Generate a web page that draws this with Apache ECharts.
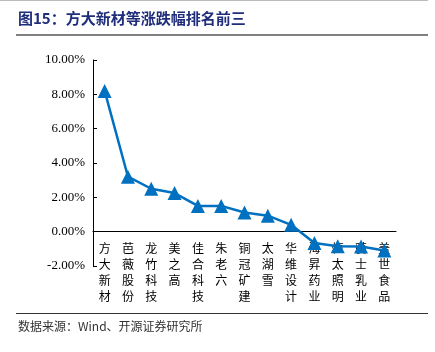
<!DOCTYPE html>
<html>
<head>
<meta charset="utf-8">
<script src="https://cdn.jsdelivr.net/npm/echarts@6/dist/echarts.min.js"></script>
<style>
  html, body { margin: 0; padding: 0; background: #fff; }
  #main { width: 435px; height: 352px; }
</style>
</head>
<body>
<div id="main"></div>
<script>
var names = ['方大新材', '芭薇股份', '龙竹科技', '美之高', '佳合科技', '朱老六', '铜冠矿建',
  '太湖雪', '华维设计', '海昇药业', '恒太照明', '骑士乳业', '盖世食品'];
// 涨跌幅 (%)
var changes = [8.2, 3.2, 2.5, 2.25, 1.5, 1.5, 1.12, 0.93, 0.4, -0.66, -0.85, -0.87, -1.1];
var yTicks = { min: -2, max: 10, step: 2 };

var chart = echarts.init(document.getElementById('main'));
chart.setOption({
  backgroundColor: '#fff',
  animation: false,
  grid: { left: 93, right: 39, top: 60, bottom: 86 },
  graphic: [
    { type: 'line', shape: { x1: 0, y1: 0.5, x2: 428, y2: 0.5 }, style: { stroke: '#bbb', lineWidth: 1 } },
    { type: 'text', left: 18, top: 11, style: {
        text: '图15：方大新材等涨跌幅排名前三', fill: '#1f2d7b',
        font: 'bold 15px "Noto Sans CJK SC"' } },
    { type: 'line', shape: { x1: 16, y1: 35, x2: 428, y2: 35 }, style: { stroke: '#808080', lineWidth: 2 } },
    { type: 'line', shape: { x1: 16, y1: 313.5, x2: 428, y2: 313.5 }, style: { stroke: '#333', lineWidth: 1 } },
    { type: 'text', left: 18, top: 320, style: {
        text: '数据来源：Wind、开源证券研究所', fill: '#333',
        font: '12px "Noto Sans CJK SC"' } }
  ],
  xAxis: {
    type: 'category',
    data: names,
    axisLine: { onZero: true, lineStyle: { color: '#000', width: 1 } },
    axisTick: { inside: true, length: 4, lineStyle: { color: '#000' } },
    axisLabel: {
      interval: 0,
      margin: -26,
      verticalAlign: 'top',
      color: '#000',
      fontSize: 12,
      lineHeight: 16,
      fontFamily: 'Noto Sans CJK SC',
      formatter: function (v) { return v.split('').join('\n'); }
    }
  },
  yAxis: {
    type: 'value',
    min: yTicks.min,
    max: yTicks.max,
    interval: yTicks.step,
    splitLine: { show: false },
    axisLine: { show: true, lineStyle: { color: '#000' } },
    axisTick: { show: true, inside: true, length: 4, lineStyle: { color: '#000' } },
    axisLabel: {
      color: '#000',
      fontSize: 13,
      fontFamily: 'Liberation Serif',
      margin: 8,
      formatter: function (v) { return v.toFixed(2) + '%'; }
    }
  },
  series: [{
    name: '涨跌幅',
    type: 'line',
    data: changes,
    symbol: 'triangle',
    symbolSize: 14,
    lineStyle: { color: '#0070c0', width: 2.5 },
    itemStyle: { color: '#0070c0' }
  }]
});
</script>
</body>
</html>
